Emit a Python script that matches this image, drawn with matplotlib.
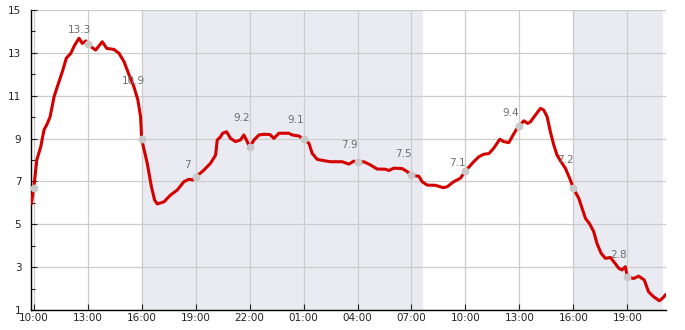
import numpy as np
import matplotlib
matplotlib.use("Agg")
import matplotlib.pyplot as plt
from matplotlib.ticker import FixedLocator, FuncFormatter, MultipleLocator

# hours since 10:00 on day 1, and readings
hours = [-0.13, 0.0, 0.17, 0.39, 0.57, 0.76, 0.91, 1.13, 1.31, 1.59, 1.81, 2.06, 2.28,
         2.52, 2.7, 2.9, 3.0, 3.44, 3.81, 4.06, 4.46, 4.74, 5.02, 5.3, 5.57, 5.79,
         5.94, 6.0, 6.31, 6.54, 6.72, 6.87, 7.24, 7.61, 7.98, 8.35, 8.63, 8.85, 9.0,
         9.46, 9.83, 10.11, 10.2, 10.39, 10.5, 10.72, 10.94, 11.22, 11.5, 11.68, 11.87,
         12.0, 12.24, 12.52, 12.8, 13.13, 13.35, 13.63, 14.18, 14.37, 14.74, 15.0,
         15.3, 15.48, 15.76, 16.13, 16.5, 17.15, 17.52, 17.8, 18.0, 18.35, 18.72,
         19.09, 19.56, 19.74, 20.02, 20.48, 20.76, 21.0, 21.41, 21.59, 21.87, 22.33,
         22.76, 22.98, 23.35, 23.72, 24.0, 24.46, 24.74, 25.02, 25.3, 25.57, 25.91,
         26.13, 26.41, 26.65, 26.87, 27.0, 27.24, 27.46, 27.61, 27.89, 28.17, 28.35,
         28.54, 28.72, 28.91, 29.09, 29.31, 29.56, 29.83, 30.0, 30.3, 30.48, 30.67,
         30.91, 31.13, 31.31, 31.54, 31.78, 32.06, 32.24, 32.52, 32.7, 32.89, 33.0,
         33.35, 33.63, 33.94, 34.18, 34.46, 34.78, 34.98, 35.11]
temps = [5.98, 6.68, 8.0, 8.62, 9.4, 9.71, 10.02, 10.95, 11.42, 12.12, 12.75, 12.98, 13.37,
         13.68, 13.44, 13.56, 13.4, 13.13, 13.52, 13.21, 13.16, 12.98, 12.59, 11.97, 11.42,
         10.8, 10.02, 8.97, 7.85, 6.76, 6.13, 5.95, 6.05, 6.37, 6.6, 6.99, 7.1, 7.07, 7.2,
         7.53, 7.85, 8.23, 8.93, 9.09, 9.25, 9.32, 9.01, 8.86, 8.94, 9.17, 8.86,
         8.59, 8.93, 9.17, 9.2, 9.19, 9.01, 9.25, 9.25, 9.17, 9.12, 8.97,
         8.78, 8.31, 8.03, 7.97, 7.92, 7.92, 7.81, 7.95, 7.89, 7.92, 7.77,
         7.58, 7.57, 7.51, 7.62, 7.6, 7.46, 7.29, 7.24, 6.99, 6.83, 6.82,
         6.71, 6.75, 6.99, 7.15, 7.49, 7.92, 8.15, 8.27, 8.3, 8.55, 8.97,
         8.86, 8.81, 9.17, 9.48, 9.59, 9.83, 9.71, 9.78, 10.1, 10.41, 10.33,
         10.02, 9.32, 8.7, 8.23, 7.92, 7.61, 7.07, 6.68, 6.21, 5.75, 5.28,
         5.01, 4.66, 4.11, 3.65, 3.41, 3.45, 3.26, 2.95, 2.87, 3.02, 2.55,
         2.47, 2.58, 2.4, 1.85, 1.62, 1.43, 1.57, 1.7]

# 3-hourly marker readings and their labels
mark_hours = [0, 3, 6, 9, 12, 15, 18, 21, 24, 27, 30, 33]
mark_vals = [6.68, 13.4, 8.97, 7.2, 8.59, 8.97, 7.89, 7.29, 7.49, 9.59, 6.68, 2.55]
label_vals = [None, 13.3, 10.9, 7, 9.2, 9.1, 7.9, 7.5, 7.1, 9.4, 7.2, 2.8]

# night periods (hours since 10:00 day 1)
nights = [(6.0, 21.63), (30.0, 34.97)]

fig = plt.figure(figsize=(6.85, 3.3), dpi=100)
ax = fig.add_axes([0.0453, 0.0606, 0.927, 0.909])

for a, b in nights:
    ax.axvspan(a, b, color="#eaeaf2", lw=0, zorder=0)

ax.plot(hours, temps, color="#d40000", lw=2.2, solid_joinstyle="round", zorder=3)
ax.scatter(mark_hours, mark_vals, s=32, color="#c8c8c8", zorder=4, linewidths=0)

for h, lv in zip(mark_hours, label_vals):
    if lv is None:
        continue
    ax.annotate(f"{lv:g}", (h, lv), xytext=(-6, 12), textcoords="offset points",
                ha="center", va="center", fontsize=7.5, color="#6e6e6e", zorder=5)

ax.set_xlim(-0.15, 35.15)
ax.set_ylim(1, 15)

ax.xaxis.set_major_locator(FixedLocator(mark_hours))
ax.xaxis.set_major_formatter(FuncFormatter(lambda v, p: f"{int((v + 10) % 24):02d}:00"))
ax.yaxis.set_major_locator(MultipleLocator(2, offset=1))
ax.yaxis.set_minor_locator(MultipleLocator(1))

ax.grid(True, which="major", color="#cccccc", lw=0.9)
ax.set_axisbelow(True)
for s in ["top", "right"]:
    ax.spines[s].set_visible(False)
for s in ["left", "bottom"]:
    ax.spines[s].set_linewidth(1)
ax.tick_params(which="both", direction="in", labelsize=7.5, colors="#222222", width=0.8)
ax.tick_params(which="major", length=4)
ax.tick_params(which="minor", length=3)
ax.tick_params(axis="y", pad=7)
ax.tick_params(axis="x", pad=2)

fig.savefig("out.png", dpi=100)
